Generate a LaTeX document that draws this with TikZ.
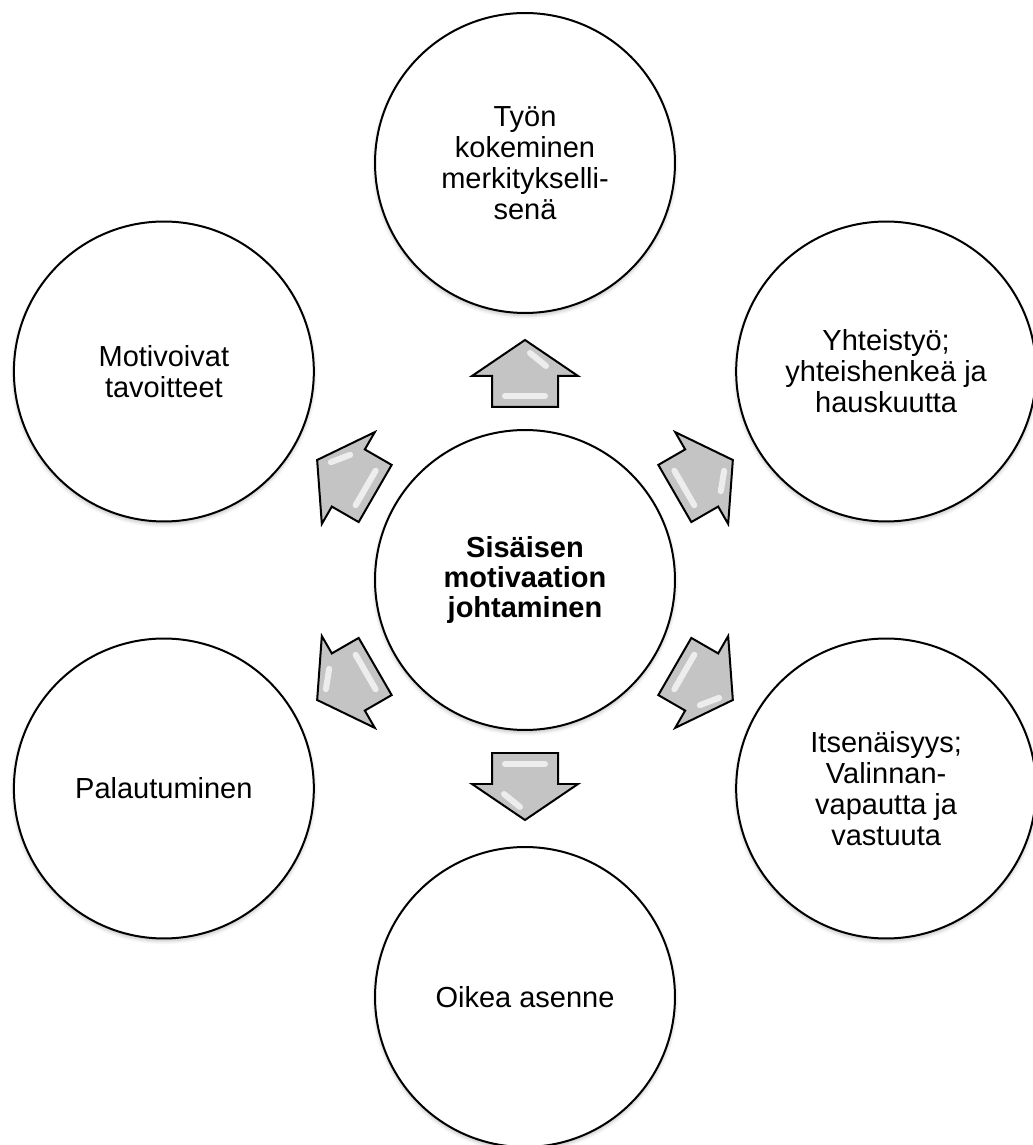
\documentclass[tikz,border=0pt]{standalone}
\usepackage{fontspec}
\setmainfont{Liberation Sans}
\usetikzlibrary{shadows.blur}
\definecolor{arrowgray}{RGB}{196,196,196}
\begin{document}
\begin{tikzpicture}[x=0.02cm,y=0.02cm,
  bubble/.style={circle, draw=black, line width=0.04cm, fill=white, minimum size=6cm, inner sep=0pt, align=center,
    font=\fontsize{16.5}{17.6}\selectfont,
    blur shadow={shadow xshift=0pt, shadow yshift=-0.05cm, shadow blur steps=6, shadow opacity=25}},
  hub/.style={bubble, font=\fontsize{16.5}{16.8}\selectfont\bfseries},
  blockarrow/.style={draw=black, line width=0.04cm, fill=arrowgray, line join=miter},
  gloss/.style={draw=white, line width=0.12cm, line cap=round, opacity=0.7}]
\useasboundingbox (-525,-565) rectangle (508,580);
\node[hub] (c) at (0,0) {Sisäisen\\motivaation\\johtaminen};
\node[bubble] (t)  at (90:417)   {Työn\\kokeminen\\merkitykselli-\\senä};
\node[bubble] (ur) at (30:417)   {Yhteistyö;\\yhteishenkeä ja\\hauskuutta};
\node[bubble] (lr) at (-30:417)  {Itsenäisyys;\\Valinnan-\\vapautta ja\\vastuuta};
\node[bubble] (b)  at (-90:417)  {Oikea asenne};
\node[bubble] (ll) at (-150:417) {Palautuminen};
\node[bubble] (ul) at (150:417)  {Motivoivat\\tavoitteet};
\foreach \a in {90,30,-30,-90,-150,150}{
  \begin{scope}[shift={(c.center)}, rotate=\a]
    \draw[blockarrow] (173,-33) -- (204,-33) -- (204,-53) -- (240,0) -- (204,53) -- (204,33) -- (173,33) -- cycle;
    \draw[gloss] (184,-20) -- (184,20);
    \draw[gloss] (214,-21) -- (227,-5);
  \end{scope}
}
\end{tikzpicture}
\end{document}
